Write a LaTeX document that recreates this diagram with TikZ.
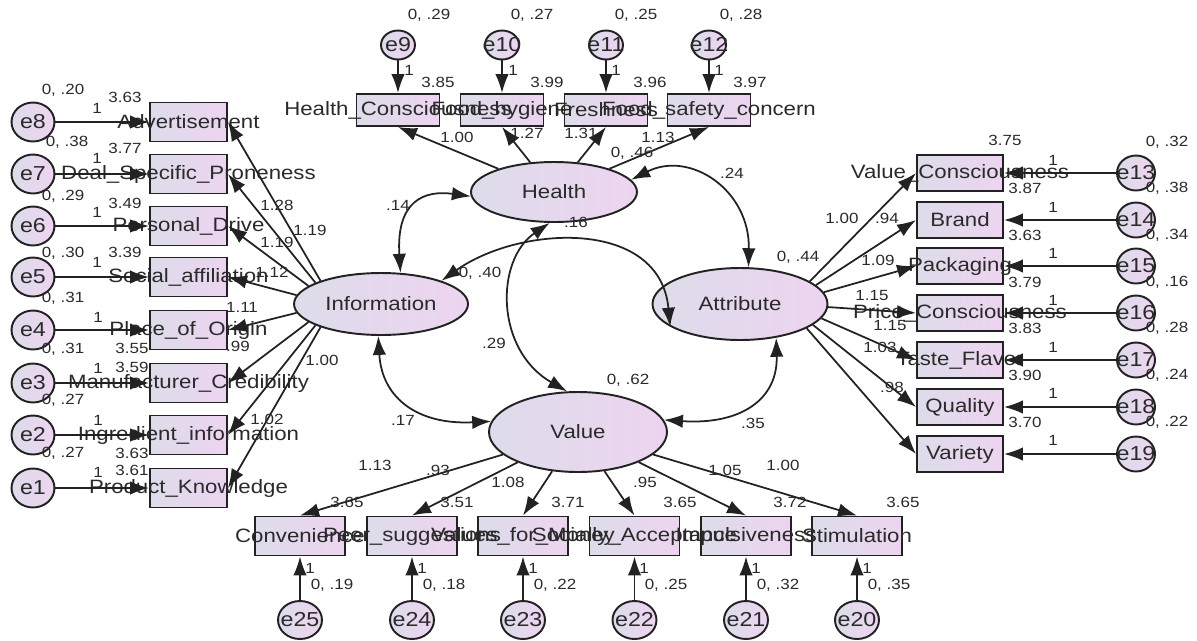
\documentclass[tikz,border=0pt]{standalone}
\usepackage{fontspec}
\setmainfont{Liberation Sans}[FakeStretch=1.15]
\usetikzlibrary{shapes.geometric,arrows.meta}
\definecolor{ink}{HTML}{222222}
\definecolor{txt}{HTML}{2A2A2A}
\definecolor{shadeL}{HTML}{DDDCEA}
\definecolor{shadeR}{HTML}{EDD4F0}
\tikzset{
  shaded/.style={draw=ink, line width=1.1pt, left color=shadeL, right color=shadeR, inner sep=0pt},
  obsbox/.style={shaded, rectangle},
  lbox/.style={obsbox, minimum width=1.54cm, minimum height=0.78cm},
  tbox/.style={obsbox, minimum width=1.66cm, minimum height=0.64cm},
  rbox/.style={obsbox, minimum width=1.72cm, minimum height=0.72cm},
  bbox/.style={obsbox, minimum width=1.80cm, minimum height=0.78cm},
  errc/.style={shaded, ellipse},
  lerr/.style={errc, minimum width=0.86cm, minimum height=0.78cm},
  terr/.style={errc, minimum width=0.68cm, minimum height=0.58cm},
  rerr/.style={errc, minimum width=0.76cm, minimum height=0.70cm},
  berr/.style={errc, minimum width=0.88cm, minimum height=0.76cm},
  latent/.style={shaded, ellipse, font=\fontsize{11}{13}\selectfont, text=txt},
  boxtext/.style={font=\fontsize{11}{13}\selectfont, text=txt, inner sep=0pt},
  etext/.style={font=\fontsize{11.5}{13}\selectfont, text=txt, inner sep=0pt},
  num/.style={font=\fontsize{8.4}{10}\selectfont, text=txt, inner sep=0pt},
  tip/.tip={Latex[length=0.38cm,width=0.27cm]},
  reg/.style={draw=ink, line width=1pt, -tip},
  cov/.style={draw=ink, line width=1pt, tip-tip},
}
\begin{document}
\begin{tikzpicture}[x=0.02cm,y=-0.02cm]
\useasboundingbox (0,0) rectangle (1197,640);

% ---- latent variables
\node[latent, minimum width=3.48cm, minimum height=1.24cm] (info) at (381,304) {Information};
\node[latent, minimum width=3.32cm, minimum height=1.20cm] (hlth) at (554,192) {Health};
\node[latent, minimum width=3.50cm, minimum height=1.44cm] (attr) at (740,304) {Attribute};
\node[latent, minimum width=3.56cm, minimum height=1.60cm] (valu) at (578,432) {Value};

% ---- Information indicators (left column)
\foreach \n/\e/\y in {adv/e8/122, deal/e7/174, pers/e6/226, soc/e5/277,
                      place/e4/330, manu/e3/383, ingr/e2/435, prod/e1/488}{
  \node[lbox] (\n) at (188.5,\y) {};
  \node[lerr] (\e) at (33,\y) {};
}
% ---- Health indicators (top row)
\foreach \n/\e/\x in {hc/e9/398, fh/e10/502, fr/e11/606, fs/e12/709}{
  \node[tbox] (\n) at (\x,110) {};
  \node[terr] (\e) at (\x,45) {};
}
% ---- Attribute indicators (right column)
\foreach \n/\e/\y in {vc/e13/173, br/e14/220, pk/e15/266, pc/e16/313,
                      tf/e17/360, qu/e18/407, va/e19/454}{
  \node[rbox] (\n) at (960,\y) {};
  \node[rerr] (\e) at (1136,\y) {};
}
% ---- Value indicators (bottom row)
\foreach \n/\e/\x in {cv/e25/300, ps/e24/412, vm/e23/523, sa/e22/634.5,
                      im/e21/746, st/e20/857}{
  \node[bbox] (\n) at (\x,536) {};
  \node[berr] (\e) at (\x,620) {};
}

% ---- indicator names, set over the boxes
\foreach \n/\t in {adv/Advertisement, deal/Deal\_Specific\_Proneness,
   pers/Personal\_Drive, soc/Social\_affiliation, place/Place\_of\_Origin,
   manu/Manufacturer\_Credibility, ingr/Ingredient\_information,
   prod/Product\_Knowledge,
   hc/Health\_Consciousness, fh/Food\_hygiene, fr/Freshness,
   fs/Food\_safety\_concern,
   vc/Value\_Consciousness, br/Brand, pk/Packaging, pc/Price\_Consciousness,
   tf/Taste\_Flavor, qu/Quality, va/Variety,
   cv/Convenience, ps/Peer\_suggestions, vm/Values\_for\_Money,
   sa/Socially\_Acceptance, im/Impulsiveness, st/Stimulation}{
  \node[boxtext] (\n-t) at (\n) {\t};
}
% ---- error term names
\foreach \e in {e1,e2,e3,e4,e5,e6,e7,e8,e9,e10,e11,e12,e13,e14,e15,e16,
                e17,e18,e19,e20,e21,e22,e23,e24,e25}{
  \node[etext] (\e-t) at (\e) {\e};
}

% ---- error paths
\foreach \e/\n in {e8/adv, e7/deal, e6/pers, e5/soc, e4/place, e3/manu,
                   e2/ingr, e1/prod, e9/hc, e10/fh, e11/fr, e12/fs,
                   e13/vc, e14/br, e15/pk, e16/pc, e17/tf, e18/qu, e19/va,
                   e25/cv, e24/ps, e23/vm, e22/sa, e21/im, e20/st}{
  \draw[reg] (\e) -- (\n);
}

% ---- loadings
\foreach \n/\a in {adv/159, deal/162, pers/166, soc/174, place/186,
                   manu/194, ingr/198, prod/201}{
  \draw[reg] (info.\a) -- (\n.east);
}
\foreach \n/\a in {vc/18, br/14, pk/8, pc/358, tf/350, qu/344, va/340}{
  \draw[reg] (attr.\a) -- (\n.west);
}
\foreach \n in {hc, fh, fr, fs}{
  \draw[reg] (hlth) -- (\n.south);
}
\foreach \n in {cv, ps, vm, sa, im, st}{
  \draw[reg] (valu) -- (\n.north);
}

% ---- covariances
\draw[cov] (info.58) .. controls (396,200) and (425,190) .. (hlth.183);
\draw[cov] (hlth.9) .. controls (690,150) and (750,190) .. (attr.77);
\draw[cov] (hlth.262) .. controls (495,260) and (495,350) .. (valu.105);
\draw[cov] (info.21) .. controls (520,225) and (660,218) .. (attr.198);
\draw[cov] (info.265) .. controls (382,400) and (420,425) .. (valu.173);
\draw[cov] (attr.317) .. controls (778,400) and (740,425) .. (valu.8);

% ---- variances
\foreach \px/\py/\t [count=\i] in {
  63/90/{0, .20}, 67/142/{0, .38}, 63/196/{0, .29}, 63/253/{0, .30},
  63/298/{0, .31}, 63/349/{0, .31}, 63/400/{0, .27}, 63/453/{0, .27},
  429/15/{0, .29}, 532/15/{0, .27}, 636/15/{0, .25}, 741/15/{0, .28},
  1167/142/{0, .32}, 1167/188/{0, .38}, 1167/235/{0, .34}, 1167/282/{0, .16},
  1167/328/{0, .28}, 1167/375/{0, .24}, 1167/422/{0, .22},
  332/585/{0, .19}, 444/585/{0, .18}, 555/585/{0, .22}, 666/585/{0, .25},
  778/585/{0, .32}, 889/585/{0, .35},
  480/273/{0, .40}, 632/153/{0, .46}, 798/257/{0, .44}, 628/380/{0, .62}}{
  \node[num] (var\i) at (\px,\py) {\t};
}
% ---- intercepts
\foreach \px/\py/\t [count=\i] in {
  125/97/3.63, 125/148/3.77, 125/203/3.49, 125/252/3.39,
  132/348/3.55, 132/367/3.59, 132/453/3.63, 132/470/3.61,
  438/82/3.85, 547/82/3.99, 650/82/3.96, 750/82/3.97,
  1005/140/3.75, 1025/188/3.87, 1025/235/3.63, 1025/282/3.79,
  1025/328/3.83, 1025/375/3.90, 1025/422/3.70,
  347/502/3.65, 457/502/3.51, 568/502/3.71, 680/502/3.65,
  790/502/3.72, 903/502/3.65}{
  \node[num] (int\i) at (\px,\py) {\t};
}
% ---- fixed error weights
\foreach \px/\py [count=\i] in {
  97/108, 97/158, 97/212, 97/262, 98/317, 98/368, 98/420, 98/472,
  409/70, 513/70, 616/70, 719/70,
  1053/160, 1053/207, 1053/253, 1053/300, 1053/347, 1053/393, 1053/440,
  310/568, 422/568, 533/568, 644/568, 756/568, 867/568}{
  \node[num] (one\i) at (\px,\py) {1};
}
% ---- estimated weights and covariances
\foreach \px/\py/\t [count=\i] in {
  277/205/1.28, 310/230/1.19, 277/242/1.19, 272/272/1.12,
  242/307/1.11, 238/346/.99, 322/360/1.00, 267/419/1.02,
  457/137/1.00, 527/133/1.27, 581/133/1.31, 658/137/1.13,
  842/218/1.00, 887/218/.94, 878/260/1.09, 872/295/1.15,
  890/325/1.15, 880/347/1.03, 892/387/.98,
  375/465/1.13, 438/470/.93, 508/482/1.08, 645/482/.95,
  725/470/1.05, 783/465/1.00,
  398/205/.14, 576/222/.16, 732/173/.24, 494/343/.29,
  403/420/.17, 753/423/.35}{
  \node[num] (est\i) at (\px,\py) {\t};
}
\end{tikzpicture}
\end{document}
